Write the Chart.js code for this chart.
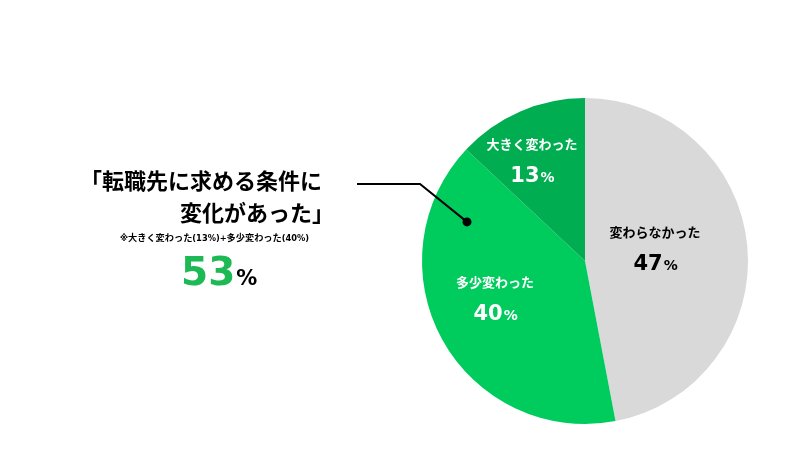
<!DOCTYPE html>
<html>
<head>
<meta charset="utf-8">
<script src="https://cdn.jsdelivr.net/npm/chart.js@4"></script>
<style>
  html, body { margin: 0; padding: 0; background: #fff; }
  #wrap { position: relative; width: 802px; height: 452px; font-family: "Noto Sans CJK JP", sans-serif; }
  #pie { position: absolute; left: 0; top: 0; }
  .t { position: absolute; font-weight: bold; color: #000; white-space: nowrap; }
  #title1 { left: 80px; top: 164px; font-size: 22px; line-height: 30px; }
  #title2 { right: 468px; top: 196px; font-size: 22px; line-height: 30px; }
  #note { left: 120px; top: 231px; font-size: 9.2px; line-height: 14px; font-family: "DejaVu Sans Condensed", "Noto Sans CJK JP", sans-serif; }
  #total { left: 181px; top: 249px; line-height: 46px; font-family: "DejaVu Sans", sans-serif; }
  #total .n { font-size: 39px; color: #1db954; }
  #total .p { font-size: 21px; margin-left: 1px; }
</style>
</head>
<body>
<div id="wrap">
  <canvas id="pie" width="802" height="452"></canvas>
  <div class="t" id="title1">「転職先に求める条件に</div>
  <div class="t" id="title2">変化があった」</div>
  <div class="t" id="note">※大きく変わった(13%)+多少変わった(40%)</div>
  <div class="t" id="total"><span class="n">53</span><span class="p">%</span></div>
</div>
<script>
  const labels = ['変わらなかった', '多少変わった', '大きく変わった'];
  const values = [47, 40, 13];
  const colors = ['#d9d9d9', '#00cc5e', '#00ad50'];
  const textColors = ['#000000', '#ffffff', '#ffffff'];

  // label placement per slice: share of radius, and turn off the mid angle (degrees)
  const labelRadius = [0.437, 0.597, 0.70];
  const labelTurn = [-5.1, 6.4, -4.3];

  const sliceLabels = {
    id: 'sliceLabels',
    afterDatasetsDraw(chart) {
      const ctx = chart.ctx;
      const meta = chart.getDatasetMeta(0);
      ctx.save();
      meta.data.forEach((arc, i) => {
        const p = arc.getProps(['x', 'y', 'startAngle', 'endAngle', 'outerRadius'], true);
        const mid = (p.startAngle + p.endAngle) / 2 + labelTurn[i] * Math.PI / 180;
        const r = p.outerRadius * labelRadius[i];
        const cx = p.x + Math.cos(mid) * r;
        const cy = p.y + Math.sin(mid) * r;
        ctx.fillStyle = textColors[i];
        ctx.textBaseline = 'middle';
        ctx.textAlign = 'center';
        ctx.font = 'bold 13px "Noto Sans CJK JP"';
        ctx.fillText(labels[i], cx, cy - 16);
        // number + smaller percent sign
        const num = String(values[i]);
        ctx.font = 'bold 21px "DejaVu Sans"';
        const wn = ctx.measureText(num).width;
        ctx.font = 'bold 14px "DejaVu Sans"';
        const wp = ctx.measureText('%').width;
        const x0 = cx - (wn + wp) / 2;
        ctx.textAlign = 'left';
        ctx.textBaseline = 'alphabetic';
        ctx.font = 'bold 21px "DejaVu Sans"';
        ctx.fillText(num, x0, cy + 22);
        ctx.font = 'bold 14px "DejaVu Sans"';
        ctx.fillText('%', x0 + wn + 1, cy + 22);
      });

      // leader line from the note to the 多少変わった slice
      const c = meta.data[1];
      const R = c.outerRadius;
      const dx = c.x - R * 0.724, dy = c.y - R * 0.24;
      ctx.strokeStyle = '#000';
      ctx.lineWidth = 2;
      ctx.beginPath();
      ctx.moveTo(357, 184);
      ctx.lineTo(420, 184);
      ctx.lineTo(dx, dy);
      ctx.stroke();
      ctx.fillStyle = '#000';
      ctx.beginPath();
      ctx.arc(dx, dy, 4.5, 0, Math.PI * 2);
      ctx.fill();
      ctx.restore();
    }
  };

  new Chart(document.getElementById('pie'), {
    type: 'pie',
    data: {
      labels: labels,
      datasets: [{
        data: values,
        backgroundColor: colors,
        borderWidth: 0
      }]
    },
    options: {
      responsive: false,
      animation: false,
      layout: { padding: { left: 422, right: 54, top: 98, bottom: 28 } },
      plugins: {
        legend: { display: false },
        tooltip: { enabled: false }
      }
    },
    plugins: [sliceLabels]
  });
</script>
</body>
</html>
